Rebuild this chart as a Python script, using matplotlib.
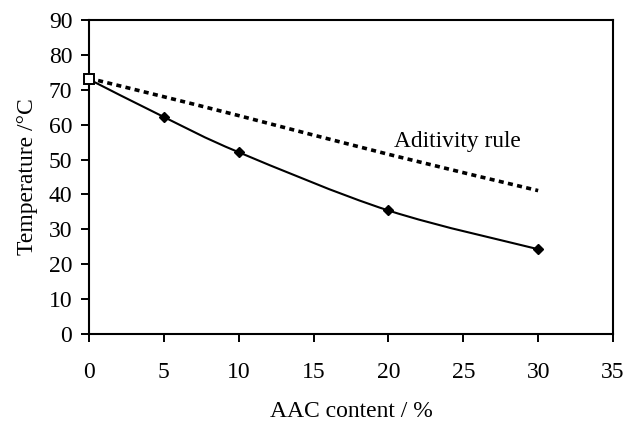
import matplotlib
matplotlib.use("Agg")
import matplotlib.pyplot as plt
from matplotlib.path import Path
from matplotlib.patches import PathPatch

plt.rcParams['font.family'] = ['Liberation Serif', 'DejaVu Serif']

aac = [0, 5, 10, 20, 30]
temp_measured = [73.0, 62.2, 52.1, 35.4, 24.3]
aac_rule = [0, 5, 10, 20, 30]
temp_rule = [73.3, 68.0, 62.6, 51.5, 41.1]
pure_x = [0]
pure_y = [73.2]


def smooth_path(xs, ys):
    """Catmull-Rom style Bezier path through the given points."""
    pts = list(zip(xs, ys))
    verts = [pts[0]]
    codes = [Path.MOVETO]
    n = len(pts)
    for i in range(n - 1):
        p0 = pts[i - 1] if i > 0 else pts[i]
        p1 = pts[i]
        p2 = pts[i + 1]
        p3 = pts[i + 2] if i + 2 < n else pts[i + 1]
        c1 = (p1[0] + (p2[0] - p0[0]) / 6, p1[1] + (p2[1] - p0[1]) / 6)
        c2 = (p2[0] - (p3[0] - p1[0]) / 6, p2[1] - (p3[1] - p1[1]) / 6)
        verts += [c1, c2, p2]
        codes += [Path.CURVE4] * 3
    return Path(verts, codes)


fig = plt.figure(figsize=(6.25, 4.24), dpi=100)
ax = fig.add_axes([0.1424, 0.2123, 0.8384, 0.7405])

ax.add_patch(PathPatch(smooth_path(aac_rule, temp_rule), fill=False,
                       edgecolor='black', lw=2.6,
                       linestyle=(0, (1.4, 1.2)), capstyle='butt'))
ax.add_patch(PathPatch(smooth_path(aac, temp_measured), fill=False,
                       edgecolor='black', lw=1.5))
ax.plot(aac, temp_measured, linestyle='none', color='black',
        marker='D', markersize=5.5)
ax.plot(pure_x, pure_y, linestyle='none', marker='s', markersize=6.5,
        markerfacecolor='white', markeredgecolor='black', markeredgewidth=1.4,
        clip_on=False, zorder=5)

ax.text(20.4, 55.2, 'Aditivity rule', fontsize=16.8, ha='left', va='center')

ax.set_xlim(0, 35)
ax.set_ylim(0, 90)
ax.set_xticks(range(0, 36, 5))
ax.set_yticks(range(0, 91, 10))
ax.tick_params(direction='out', length=6, width=1.4, labelsize=17)
ax.tick_params(axis='x', pad=14)
ax.tick_params(axis='y', pad=6)
for s in ax.spines.values():
    s.set_linewidth(1.5)

ax.set_xlabel('AAC content / %', fontsize=17, labelpad=13)
ax.set_ylabel('Temperature /°C', fontsize=17, labelpad=8)

fig.savefig('out.png', dpi=100)
